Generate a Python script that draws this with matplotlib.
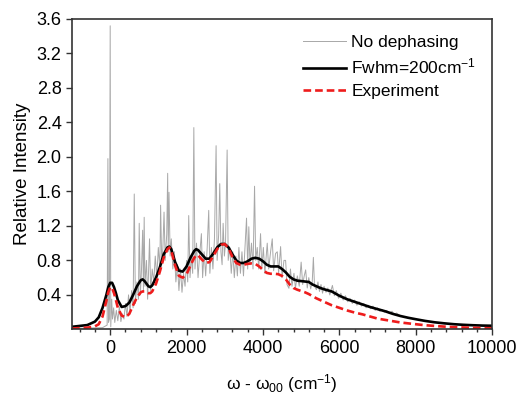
import numpy as np
import matplotlib
matplotlib.use('Agg')
import matplotlib.pyplot as plt
from matplotlib.ticker import MultipleLocator

plt.rcParams['font.family'] = ['Liberation Sans', 'DejaVu Sans']
plt.rcParams['mathtext.fontset'] = 'custom'
plt.rcParams['mathtext.rm'] = 'Liberation Sans'
plt.rcParams['mathtext.it'] = 'Liberation Sans'

# Fwhm = 200 cm-1 curve
fwhm_x = [-1000, -800, -600, -400, -300, -200, -100, -50, 0, 50, 100, 150, 200, 300, 400, 500,
          600, 700, 800, 850, 900, 1000, 1050, 1100, 1200, 1300, 1400, 1500, 1550, 1600, 1700,
          1800, 1900, 2000, 2100, 2200, 2250, 2300, 2400, 2500, 2600, 2700, 2800, 2900, 3000,
          3100, 3200, 3300, 3400, 3500, 3600, 3700, 3800, 3900, 4000, 4100, 4200, 4300, 4400,
          4500, 4600, 4700, 4800, 4900, 5000, 5100, 5200, 5300, 5400, 5500, 5600, 5800, 6000,
          6200, 6400, 6600, 6800, 7000, 7200, 7400, 7600, 7800, 8000, 8250, 8500, 8750, 9000,
          9250, 9500, 9750, 10000]
fwhm_y = [0.03, 0.04, 0.05, 0.09, 0.14, 0.25, 0.40, 0.49, 0.54, 0.54, 0.49, 0.42, 0.34, 0.26, 0.27, 0.31,
          0.40, 0.50, 0.57, 0.58, 0.56, 0.50, 0.49, 0.51, 0.60, 0.72, 0.87, 0.95, 0.96, 0.93, 0.78,
          0.68, 0.67, 0.73, 0.83, 0.91, 0.93, 0.92, 0.87, 0.82, 0.82, 0.88, 0.95, 0.99, 0.99,
          0.95, 0.87, 0.80, 0.77, 0.77, 0.79, 0.82, 0.83, 0.82, 0.79, 0.75, 0.73, 0.73, 0.73,
          0.70, 0.66, 0.61, 0.58, 0.565, 0.56, 0.555, 0.55, 0.52, 0.50, 0.48, 0.465, 0.44, 0.39,
          0.35, 0.32, 0.29, 0.26, 0.235, 0.21, 0.18, 0.155, 0.135, 0.118, 0.098, 0.082, 0.07, 0.06,
          0.053, 0.048, 0.044, 0.042]

# experiment
exp_x = fwhm_x
exp_y = [0.01, 0.015, 0.02, 0.035, 0.06, 0.15, 0.33, 0.43, 0.49, 0.48, 0.42, 0.34, 0.25, 0.16, 0.14, 0.18,
         0.28, 0.37, 0.43, 0.44, 0.44, 0.42, 0.42, 0.44, 0.53, 0.67, 0.83, 0.93, 0.95, 0.91, 0.74,
         0.62, 0.60, 0.64, 0.74, 0.83, 0.86, 0.86, 0.81, 0.77, 0.78, 0.85, 0.93, 0.98, 0.99,
         0.94, 0.84, 0.77, 0.75, 0.75, 0.76, 0.765, 0.76, 0.73, 0.69, 0.655, 0.645, 0.645, 0.64,
         0.62, 0.58, 0.52, 0.48, 0.46, 0.445, 0.43, 0.41, 0.385, 0.36, 0.34, 0.32, 0.28, 0.25,
         0.22, 0.195, 0.175, 0.15, 0.125, 0.11, 0.095, 0.08, 0.07, 0.06, 0.048, 0.04, 0.032, 0.026,
         0.022, 0.018, 0.015, 0.013]

# no dephasing (stick-like spectrum)
nodeph_x = [-1000, -200, -80, -60, -45, -20, 0, 15, 40, 60, 90, 120, 160, 200, 240, 280, 320, 360,
            400, 440, 480, 520, 560, 600, 630, 660, 700, 740, 760, 790, 820, 850, 870, 890, 910,
            950, 980, 1000, 1030, 1060, 1100, 1140, 1180, 1220, 1260, 1300, 1320, 1350, 1380,
            1410, 1440, 1480, 1505, 1520, 1540, 1570, 1600, 1640, 1680, 1720, 1760, 1800, 1840,
            1880, 1920, 1960, 2000, 2030, 2056, 2090, 2130, 2160, 2190, 2220, 2260, 2300, 2340,
            2388, 2420, 2460, 2500, 2540, 2580, 2610, 2650, 2690, 2730, 2773, 2800, 2840, 2869,
            2900, 2930, 2957, 2990, 3020, 3062, 3090, 3130, 3170, 3210, 3250, 3290, 3330, 3370,
            3410, 3450, 3490, 3530, 3570, 3600, 3630, 3660, 3700, 3740, 3780, 3810, 3850, 3890,
            3937, 3970, 4010, 4050, 4112, 4150, 4200, 4243, 4280, 4330, 4375, 4410, 4462, 4500,
            4550, 4593, 4630, 4680, 4720, 4760, 4812, 4850, 4900, 4950, 5000, 5040, 5080, 5118,
            5160, 5200, 5250, 5290, 5320, 5350, 5400, 5440, 5480, 5520, 5560, 5600, 5650, 5700,
            5750, 5818, 5870, 5920, 5980, 6040, 6100, 6160, 6220, 6280, 6340, 6400, 6460, 6520,
            6580, 6640, 6700, 6760, 6820, 6880, 6940, 7000, 7060, 7120, 7180, 7240, 7300, 7380,
            7440, 7500, 7600, 7800, 8000, 8500, 9000, 9500, 10000]
nodeph_y = [0.01, 0.02, 0.05, 1.98, 0.08, 0.12, 3.52, 0.03, 0.35, 0.12, 0.25, 0.08, 0.22, 0.10, 0.26, 0.09, 0.18, 0.12,
            0.30, 0.15, 0.40, 0.20, 0.45, 0.25, 1.57, 0.30, 0.55, 0.35, 1.23, 0.40, 0.70, 1.15, 0.45, 1.30, 0.50,
            0.80, 0.35, 0.60, 1.05, 0.45, 0.70, 0.55, 0.85, 0.60, 0.95, 0.70, 1.44, 0.75, 0.95,
            1.36, 0.80, 1.10, 1.81, 0.90, 1.59, 0.85, 1.05, 0.70, 0.90, 0.55, 0.75, 0.45, 0.70,
            0.43, 0.65, 0.50, 0.80, 0.55, 1.32, 0.60, 0.85, 0.65, 2.34, 0.70, 1.00, 0.60, 0.85,
            1.11, 0.60, 0.90, 0.62, 0.95, 1.38, 0.65, 0.95, 0.70, 1.05, 2.13, 0.80, 1.10, 1.69,
            0.90, 0.75, 1.23, 0.85, 1.00, 2.08, 0.80, 0.95, 0.65, 0.90, 0.60, 0.85, 0.62, 0.95,
            0.65, 0.90, 0.62, 0.95, 1.29, 0.70, 1.19, 0.75, 1.00, 0.70, 1.66, 0.80, 0.95, 0.70,
            1.11, 0.70, 0.95, 0.65, 1.00, 0.70, 0.90, 1.05, 0.68, 0.88, 0.90, 0.65, 0.96, 0.60,
            0.80, 0.80, 0.52, 0.476, 0.70, 0.50, 0.65, 0.48, 0.62, 0.50, 0.78, 0.52, 0.62, 0.69,
            0.48, 0.60, 0.47, 0.55, 0.835, 0.50, 0.46, 0.55, 0.44, 0.52, 0.42, 0.50, 0.43, 0.48,
            0.40, 0.51, 0.39, 0.45, 0.36, 0.42, 0.34, 0.39, 0.32, 0.36, 0.30, 0.34, 0.28, 0.32,
            0.27, 0.30, 0.25, 0.28, 0.24, 0.27, 0.22, 0.25, 0.21, 0.23, 0.20, 0.22, 0.19, 0.21,
            0.17, 0.19, 0.155, 0.135, 0.118, 0.082, 0.06, 0.048, 0.042]

fig = plt.figure(figsize=(5.18, 3.94), dpi=100)
ax = fig.add_axes([0.139, 0.164, 0.811, 0.788])

ax.plot(nodeph_x, nodeph_y, color='#a8a8a8', lw=0.7, label='No dephasing')
ax.plot(fwhm_x, fwhm_y, color='black', lw=1.9, label='Fwhm=200cm$^{-1}$')
ax.plot(exp_x, exp_y, color='#ee1c1c', lw=1.9, ls=(0, (2.9, 1.5)), label='Experiment')

ax.set_xlim(-1000, 10000)
ax.set_ylim(0.0, 3.6)
ax.set_yticks(np.arange(0.4, 3.61, 0.4))
ax.set_yticklabels(['%.1f' % v for v in np.arange(0.4, 3.61, 0.4)])
ax.set_xticks([0, 2000, 4000, 6000, 8000, 10000])
ax.xaxis.set_minor_locator(MultipleLocator(400))

ax.tick_params(axis='both', which='major', direction='out', length=4.5, width=1.0,
               labelsize=13, pad=3, color='#333333')
ax.tick_params(axis='x', which='minor', direction='out', length=2.5, width=1.0, color='#333333')
ax.tick_params(top=False, right=False)
for s in ax.spines.values():
    s.set_linewidth(1.2)
    s.set_color('#333333')

ax.set_ylabel('Relative Intensity', fontsize=13.5, labelpad=4)
ax.set_xlabel(r'ω - ω$_{00}$ (cm$^{-1}$)', fontsize=12.5, labelpad=11)

ax.legend(loc='upper right', frameon=False, fontsize=12.5, handlelength=2.5,
          handletextpad=0.3, labelspacing=0.42, borderaxespad=0.5, bbox_to_anchor=(1.0, 1.0))

fig.savefig('out.png', dpi=100)
